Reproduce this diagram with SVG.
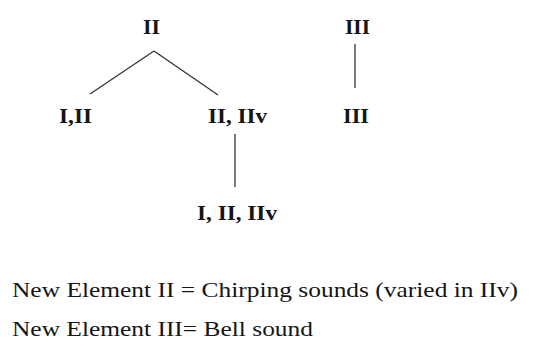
<svg xmlns="http://www.w3.org/2000/svg" width="543" height="340" viewBox="0 0 543 340">
  <style>
    .lbl { font-family: "Liberation Serif", "Times New Roman", serif; font-size: 20px; font-weight: bold; fill: #151515; }
    .note { font-family: "Liberation Serif", "Times New Roman", serif; font-size: 22px; fill: #151515; }
    .edge { stroke: #333; stroke-width: 1.3; fill: none; }
  </style>
  <rect width="543" height="340" fill="#fff"/>
  <g id="connectors">
    <line class="edge" x1="154" y1="51" x2="90" y2="94"/>
    <line class="edge" x1="154" y1="51" x2="218" y2="95"/>
    <line class="edge" x1="235" y1="134" x2="235" y2="187"/>
    <line class="edge" x1="355" y1="44" x2="355" y2="88"/>
  </g>
  <g id="n-II"><text class="lbl" x="143" y="34" textLength="17" lengthAdjust="spacingAndGlyphs">II</text></g>
  <g id="n-I-II"><text class="lbl" x="59" y="123" textLength="33" lengthAdjust="spacingAndGlyphs">I,II</text></g>
  <g id="n-II-IIv"><text class="lbl" x="208" y="123" textLength="59" lengthAdjust="spacingAndGlyphs">II, IIv</text></g>
  <g id="n-I-II-IIv"><text class="lbl" x="197" y="220" textLength="80" lengthAdjust="spacingAndGlyphs">I, II, IIv</text></g>
  <g id="n-III-top"><text class="lbl" x="345" y="34" textLength="25" lengthAdjust="spacingAndGlyphs">III</text></g>
  <g id="n-III-bottom"><text class="lbl" x="343" y="123" textLength="26" lengthAdjust="spacingAndGlyphs">III</text></g>
  <g id="legend">
    <text class="note" x="12" y="297" textLength="506" lengthAdjust="spacingAndGlyphs">New Element II = Chirping sounds (varied in IIv)</text>
    <text class="note" x="12" y="336" textLength="301" lengthAdjust="spacingAndGlyphs">New Element III= Bell sound</text>
  </g>
</svg>
